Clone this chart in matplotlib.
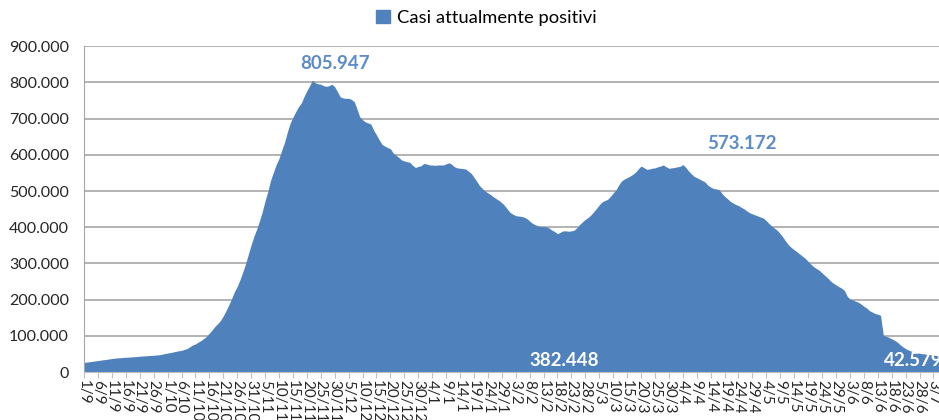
import numpy as np
import matplotlib
matplotlib.use('Agg')
import matplotlib.pyplot as plt
import matplotlib.patches as mpatches
import matplotlib.ticker as ticker

plt.rcParams['font.family'] = ['Lato', 'DejaVu Sans']

# casi attualmente positivi, one value per day from 1/9/2020 to 5/7/2021
sep = [26754, 27800, 28800, 29800, 30900, 32000, 33100, 34200, 35200, 36400,
       37500, 38500, 39200, 39700, 40500, 41000, 41500, 42000, 42600, 43100,
       44000, 44500, 45000, 45600, 46100, 46600, 47200, 48000, 49200, 51263]
oct_ = [52600, 54000, 55600, 57400, 59000, 60100, 62600, 65000, 70100, 75000,
        77900, 82800, 87200, 92700, 99300, 107300, 116600, 126200, 134000, 142700,
        155400, 170000, 186000, 203200, 222200, 236700, 255100, 276500, 299200, 325800,
        351400]
nov = [375000, 395000, 418000, 443000, 473000, 499000, 530000, 552000, 573000, 590000,
       613000, 635000, 663000, 687000, 704000, 719000, 733000, 743000, 761000, 777000,
       791000, 805947, 799000, 796000, 795000, 791000, 789000, 791000, 795000, 788000]
dec = [774000, 760000, 757000, 756000, 756000, 753000, 747000, 727000, 705000, 697000,
       691000, 688000, 685000, 668000, 655000, 641000, 629000, 624000, 620000, 617000,
       605000, 599000, 593000, 586000, 583000, 581000, 579000, 571000, 565000, 568000,
       570000]
jan = [576000, 575000, 572000, 572000, 571000, 572000, 572000, 572000, 575000, 578000,
       574000, 567000, 564000, 563000, 562000, 561000, 555000, 549000, 538000, 527000,
       515000, 507000, 500000, 495000, 490000, 484000, 479000, 474000, 468000, 460000,
       450000]
feb = [441000, 436000, 432000, 431000, 430000, 428000, 424000, 417000, 411000, 407000,
       404000, 402000, 402000, 401000, 398000, 392000, 388000, 382448, 386000, 390000,
       390000, 389000, 390000, 392000, 399000, 408000, 415000, 422000]
mar = [427000, 434000, 443000, 452000, 462000, 470000, 474000, 477000, 485000, 495000,
       503000, 517000, 528000, 533000, 537000, 541000, 546000, 552000, 561000, 569000,
       565000, 560000, 561000, 563000, 564000, 567000, 569000, 572000, 567000, 563000,
       564000]
apr = [565000, 567000, 568000, 573172, 566000, 556000, 548000, 541000, 537000, 533000,
       529000, 525000, 516000, 511000, 507000, 506000, 504000, 494000, 485000, 479000,
       472000, 467000, 463000, 460000, 455000, 451000, 445000, 440000, 437000, 434000]
may = [431000, 428000, 425000, 418000, 410000, 403000, 397000, 391000, 382000, 372000,
       361000, 351000, 344000, 338000, 332000, 326000, 320000, 314000, 306000, 298000,
       291000, 286000, 281000, 274000, 267000, 260000, 252000, 246000, 241000, 236000,
       232000]
jun = [226000, 210000, 202000, 199000, 196000, 193000, 188000, 182000, 177000, 170000,
       166000, 162000, 160000, 157000, 102000, 99000, 96000, 92000, 88000, 83000,
       76000, 70000, 65000, 61000, 58000, 56000, 54000, 52000, 51000, 50000]
jul = [49000, 48000, 47000, 46000, 42579]

tick_labels = ["1/9", "6/9", "11/9", "16/9", "21/9", "26/9", "1/10", "6/10", "11/10",
               "16/10", "21/10", "26/10", "31/10", "5/11", "10/11", "15/11", "20/11",
               "25/11", "30/11", "5/12", "10/12", "15/12", "20/12", "25/12", "30/12",
               "4/1", "9/1", "14/1", "19/1", "24/1", "29/1", "3/2", "8/2", "13/2",
               "18/2", "23/2", "28/2", "5/3", "10/3", "15/3", "20/3", "25/3", "30/3",
               "4/4", "9/4", "14/4", "19/4", "24/4", "29/4", "4/5", "9/5", "14/5",
               "19/5", "24/5", "29/5", "3/6", "8/6", "13/6", "18/6", "23/6", "28/6", "3/7"]

values = np.array(sep + oct_ + nov + dec + jan + feb + mar + apr + may + jun + jul)
days = np.arange(len(values))

blue = '#4f81bd'
grid_col = '#a6a6a6'

fig = plt.figure(figsize=(9.39, 4.2), dpi=100)
ax = fig.add_axes([0.0895, 0.114, 0.9105, 0.776])

ax.fill_between(days, values, color=blue, linewidth=0, zorder=2)

ax.set_xlim(0, 307)
ax.set_ylim(0, 900000)
ax.yaxis.set_major_locator(ticker.MultipleLocator(100000))
ax.yaxis.set_major_formatter(ticker.FuncFormatter(lambda v, p: f"{int(v):,}".replace(",", ".")))
ax.yaxis.grid(color=grid_col, linewidth=1.2, zorder=1)
ax.set_axisbelow(True)

ax.set_xticks(np.arange(0, 306, 5))
ax.set_xticklabels(tick_labels, rotation=-90, fontsize=11, color='#262626')
ax.tick_params(axis='x', length=4, color='#bfbfbf', pad=2)
ax.tick_params(axis='y', length=0, pad=11, labelsize=11.5, labelcolor='#262626')

for s in ['top', 'right']:
    ax.spines[s].set_visible(False)
ax.spines['left'].set_color(grid_col)
ax.spines['bottom'].set_color('#bfbfbf')

ax.text(90.3, 853000, '805.947', ha='center', va='center', fontsize=13.5,
        fontweight='bold', color='#5b8cc8')
ax.text(236.2, 632000, '573.172', ha='center', va='center', fontsize=13.5,
        fontweight='bold', color='#5b8cc8')
ax.text(172.4, 33000, '382.448', ha='center', va='center', fontsize=13.5,
        fontweight='bold', color='white', zorder=3)
ax.text(287.1, 33000, '42.579', ha='left', va='center', fontsize=13.5,
        fontweight='bold', color='white', zorder=3, clip_on=False)

handle = mpatches.Patch(color=blue, label='Casi attualmente positivi')
fig.legend(handles=[handle], loc='center', bbox_to_anchor=(0.518, 0.957),
           frameon=False, fontsize=13.2, handlelength=0.75, handleheight=0.75,
           handletextpad=0.4)

plt.savefig('out.png', dpi=100)
